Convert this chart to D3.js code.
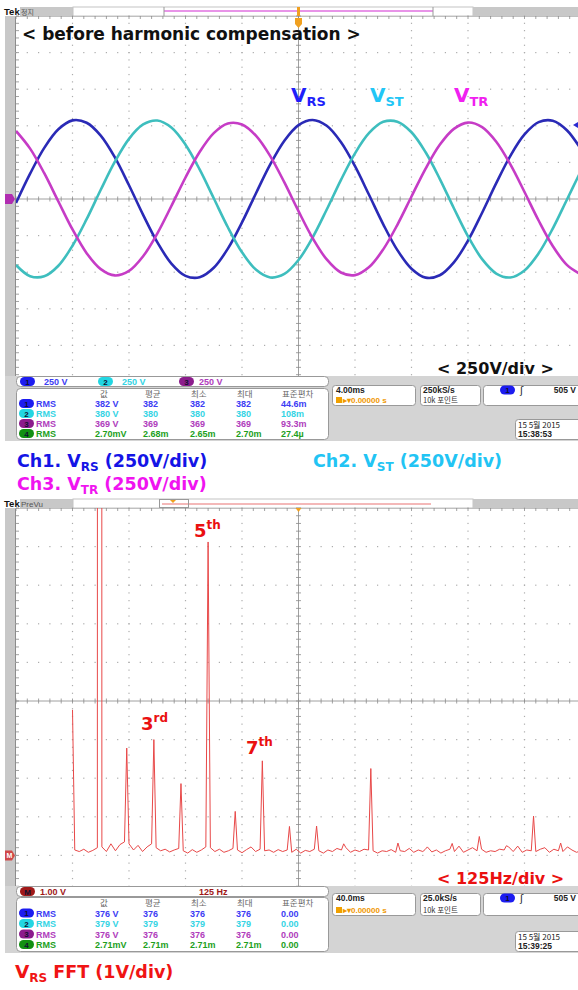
<!DOCTYPE html>
<html>
<head>
<meta charset="utf-8">
<script src="https://cdn.jsdelivr.net/npm/d3@7/dist/d3.min.js"></script>
<style>
  body { margin: 0; background: #fff; }
  svg { display: block; }
</style>
</head>
<body>
<svg id="chart" width="578" height="990"></svg>
<script>
// ---- data read off the two scope captures ----
// time record: 4 ms/div, 10 div, trigger in the middle, sampled every 1 ms
var timeMs = d3.range(-20, 21);
var vRS = [-27,173,349,476,537,521,433,284,94,-108,-295,-441,-525,-535,-470,-339,-160,41,236,398,
           505,540,500,389,224,27,-173,-349,-476,-537,-521,-433,-284,-94,108,295,441,525,535,470,339];
var vST = [-451,-527,-528,-456,-319,-138,63,255,411,509,536,488,371,202,5,-193,-364,-484,-536,-512,
           -417,-263,-72,129,312,451,527,528,456,319,138,-63,-255,-411,-509,-536,-488,-371,-202,-5,193];
var vTR = [465,344,176,-17,-208,-370,-479,-522,-491,-391,-236,-48,147,321,450,516,509,431,293,113,
           -83,-267,-413,-502,-520,-465,-344,-176,17,208,370,479,522,491,391,236,48,-147,-321,-450,-516];

// FFT of V_RS: harmonic lines (Hz, V) and the noise floor between them (bins 5 Hz + 10 Hz steps)
var harmHz = [0,60,120,180,240,300,360,420,480,540,600,660,720,780,840,900,960,1020,1080];
var harmV  = [3.77,382,2.78,3.0,1.86,8.12,1.14,2.45,0.75,0.76,0.30,2.25,0.32,0.15,0.31,0.49,0.25,1.02,0.32];
var floorV = [0.14,0.10,0.16,0.08,0.13,0.20,0.22,0.10,0.30,0.12,
              0.28,0.35,0.30,0.14,0.26,0.10,0.22,0.30,0.20,0.12,
              0.16,0.09,0.14,0.18,0.12,0.06,0.15,0.08,0.14,0.22,
              0.20,0.10,0.16,0.08,0.12,0.18,0.14,0.07,0.15,0.22,
              0.10,0.16,0.12,0.14,0.08,0.15,0.10,0.14,0.08,0.16,
              0.06,0.13,0.10,0.16,0.12,0.06,0.14,0.10,0.18,0.14,
              0.20,0.08,0.14,0.10,0.16,0.14,0.12,0.06,0.12,0.10,
              0.15,0.08,0.12,0.10,0.18,0.08,0.14,0.10,0.22,0.09,
              0.14,0.06,0.12,0.16,0.10,0.24,0.08,0.14,0.20,0.12,
              0.16,0.08,0.12,0.10,0.16,0.14,0.22,0.10,0.24,0.08,
              0.14,0.12,0.10,0.16,0.20,0.08,0.16,0.12,0.10,0.22,
              0.14,0.08,0.12];

var measHead = ["값", "평균", "최소", "최대", "표준편차"];
var measWave = [
  ["382 V", "382", "382", "382", "44.6m"],
  ["380 V", "380", "380", "380", "108m"],
  ["369 V", "369", "369", "369", "93.3m"],
  ["2.70mV", "2.68m", "2.65m", "2.70m", "27.4µ"]
];
var measFft = [
  ["376 V", "376", "376", "376", "0.00"],
  ["379 V", "379", "379", "379", "0.00"],
  ["376 V", "376", "376", "376", "0.00"],
  ["2.71mV", "2.71m", "2.71m", "2.71m", "0.00"]
];

var svg = d3.select("#chart");
var fontBig = '"DejaVu Sans", sans-serif';
var fontTek = '"Liberation Sans", Arial, sans-serif';
var fontKo = '"Noto Sans CJK KR", sans-serif';
var divX = 56.5, plotL = 16;

var panels = [
  {bar: 7, top: 16, divY: 36.6, read: 376, measTop: 388, measBot: 441, row0: 397, rowStep: 10, boxTop: 385, boxH: 20, dateTop: 419},
  {bar: 499, top: 508, divY: 38.6, read: 886, measTop: 897, measBot: 953, row0: 906, rowStep: 10.5, boxTop: 893, boxH: 22, dateTop: 931}
];

svg.append("rect").attr("width", 578).attr("height", 990).attr("fill", "#fff");

function txt(g, x, y, s, size, color, font, weight) {
  return g.append("text").attr("x", x).attr("y", y).text(s)
    .style("font-family", font || fontTek).style("font-size", size + "px")
    .style("font-weight", weight || "normal").attr("fill", color);
}

function oval(g, x, cy, fill, label) {
  g.append("rect").attr("x", x).attr("y", cy - 4.5).attr("width", 15).attr("height", 9)
    .attr("rx", 4.5).attr("fill", fill);
  txt(g, x + 7.5, cy + 3, label, 8, "#101030", fontTek, "bold").attr("text-anchor", "middle");
}

// frame of one capture: record bar, side bar, graticule
function frame(p, tag) {
  var g = svg.append("g");
  var bottom = p.top + 10 * p.divY;
  g.append("rect").attr("x", 20).attr("y", p.bar).attr("width", 53).attr("height", 9).attr("fill", "#c8c8c8");
  g.append("rect").attr("x", 73).attr("y", p.bar).attr("width", 400).attr("height", 9)
    .attr("fill", "#fff").attr("stroke", "#c4c4c4");
  g.append("rect").attr("x", 473).attr("y", p.bar).attr("width", 105).attr("height", 9).attr("fill", "#c8c8c8");
  txt(g, 4, p.bar + 8, "Tek", 9.5, "#111", fontTek, "bold");
  txt(g, 21, p.bar + 7.5, tag, tag === "PreVu" ? 8 : 7, "#555", tag === "PreVu" ? fontTek : fontKo);

  g.append("rect").attr("x", plotL).attr("y", p.top).attr("width", 578 - plotL).attr("height", bottom - p.top).attr("fill", "#fff");
  g.append("rect").attr("x", 5).attr("y", p.top).attr("width", 10).attr("height", p.read - p.top).attr("fill", "#c8c8c8");
  g.append("line").attr("x1", 15.5).attr("x2", 15.5).attr("y1", p.top).attr("y2", p.read).attr("stroke", "#8c8c8c");
  g.append("line").attr("x1", 15).attr("x2", 578).attr("y1", p.top + 0.5).attr("y2", p.top + 0.5).attr("stroke", "#c0c0c0");

  var gx = d3.scaleLinear().domain([0, 10]).range([plotL, plotL + 10 * divX]);
  var gy = d3.scaleLinear().domain([0, 10]).range([p.top, bottom]);
  var minors = d3.range(0, 51).map(function(d) { return d / 5; });
  var dots = [];
  [1, 2, 3, 4, 6, 7, 8, 9].forEach(function(i) {
    minors.forEach(function(m) { dots.push([gx(i), gy(m)]); dots.push([gx(m), gy(i)]); });
  });
  g.selectAll("rect.dot").data(dots).enter().append("rect").attr("class", "dot")
    .attr("x", function(d) { return d[0] - 0.6; }).attr("y", function(d) { return d[1] - 0.6; })
    .attr("width", 1.2).attr("height", 1.2).attr("fill", "#acacac");

  g.append("line").attr("x1", gx(5)).attr("x2", gx(5)).attr("y1", p.top).attr("y2", bottom).attr("stroke", "#a0a0a0");
  g.append("line").attr("x1", plotL).attr("x2", 578).attr("y1", gy(5)).attr("y2", gy(5)).attr("stroke", "#a0a0a0");
  var ticks = [];
  minors.forEach(function(m) {
    ticks.push([gx(m), gy(5) - 2.5, gx(m), gy(5) + 2.5]);
    ticks.push([gx(5) - 2.5, gy(m), gx(5) + 2.5, gy(m)]);
    ticks.push([gx(m), p.top, gx(m), p.top + 3]);
    ticks.push([plotL, gy(m), plotL + 3, gy(m)]);
  });
  g.selectAll("line.tk").data(ticks).enter().append("line").attr("class", "tk")
    .attr("x1", function(d) { return d[0]; }).attr("y1", function(d) { return d[1]; })
    .attr("x2", function(d) { return d[2]; }).attr("y2", function(d) { return d[3]; })
    .attr("stroke", "#8a8a8a").attr("stroke-width", 0.8);
  return g;
}

// readout strip below a graticule
function readouts(p, chans, meas, boxA, boxB, date) {
  var g = svg.append("g");
  g.append("rect").attr("x", 5).attr("y", p.read).attr("width", 573).attr("height", p.measBot - p.read).attr("fill", "#d4d4d4");
  g.append("rect").attr("x", 16.5).attr("y", p.read + 0.5).attr("width", 312).attr("height", 10)
    .attr("rx", 4).attr("fill", "#fff").attr("stroke", "#999");
  chans.forEach(function(c) {
    if (c.oval) oval(g, c.x, p.read + 5.5, c.fill, c.oval);
    txt(g, c.tx, p.read + 9, c.text, 9, c.color, fontTek, "bold");
  });

  g.append("rect").attr("x", 16.5).attr("y", p.measTop + 0.5).attr("width", 312).attr("height", p.measBot - p.measTop - 2)
    .attr("rx", 4).attr("fill", "#fff").attr("stroke", "#999");
  var colX = [95, 143, 190, 236, 281];
  var headX = [100, 145, 191, 237, 282];
  measHead.forEach(function(h, i) { txt(g, headX[i], p.row0, h, 8.5, "#666", fontKo); });
  var rowCol = ["#3c3cf4", "#34d4e4", "#b03cbc", "#1ca01c"];
  var ovCol = ["#1c1cf0", "#22d6e2", "#8c1c8c", "#129012"];
  meas.forEach(function(r, j) {
    var y = p.row0 + (j + 1) * p.rowStep;
    oval(g, 19, y - 3.5, ovCol[j], String(j + 1));
    txt(g, 36, y, "RMS", 9, rowCol[j], fontTek, "bold");
    r.forEach(function(v, i) { txt(g, colX[i], y, v, 9, rowCol[j], fontTek, "bold"); });
  });

  var l1 = p.boxTop + 8, l2 = p.boxTop + p.boxH - 2;
  g.append("rect").attr("x", 332.5).attr("y", p.boxTop + 0.5).attr("width", 83).attr("height", p.boxH).attr("rx", 3).attr("fill", "#fff").attr("stroke", "#999");
  txt(g, 336, l1, boxA, 8.5, "#222", fontTek, "bold");
  g.append("rect").attr("x", 336).attr("y", l2 - 6).attr("width", 6).attr("height", 6).attr("fill", "#f0a000");
  txt(g, 343, l2, "▸▾0.00000 s", 8, "#f09800", fontTek, "bold");
  g.append("rect").attr("x", 420.5).attr("y", p.boxTop + 0.5).attr("width", 60).attr("height", p.boxH).attr("rx", 3).attr("fill", "#fff").attr("stroke", "#999");
  txt(g, 423, l1, boxB, 8.5, "#222", fontTek, "bold");
  txt(g, 423, l2, "10k 포인트", 7.5, "#333", fontKo);
  g.append("rect").attr("x", 483.5).attr("y", p.boxTop + 0.5).attr("width", 100).attr("height", p.boxH).attr("rx", 3).attr("fill", "#fff").attr("stroke", "#999");
  oval(g, 500, l1 - 3, "#1c1cf0", "1");
  txt(g, 520, l1 + 1, "ʃ", 10, "#222", fontBig);
  txt(g, 576, l1, "505 V", 8.5, "#222", fontTek, "bold").attr("text-anchor", "end");
  g.append("rect").attr("x", 515.5).attr("y", p.dateTop + 0.5).attr("width", 70).attr("height", 20).attr("rx", 3).attr("fill", "#fff").attr("stroke", "#999");
  txt(g, 518, p.dateTop + 8.5, "15 5월 2015", 8, "#222", fontKo);
  txt(g, 518, p.dateTop + 18, date, 8.5, "#222", fontTek, "bold");
}

// label with a subscript / superscript part
function rich(x, y, color, parts) {
  var t = svg.append("text").attr("x", x).attr("y", y).attr("fill", color)
    .style("font-family", fontBig).style("font-weight", "bold");
  parts.forEach(function(q) {
    t.append("tspan").text(q[0]).style("font-size", q[1] + "px").attr("dy", q[2] || 0);
  });
  return t;
}

// ================= upper capture: three phase voltages =================
var P1 = panels[0];
frame(P1, "정지");
var x1 = d3.scaleLinear().domain([-20, 20]).range([plotL, plotL + 10 * divX]);
var y1 = d3.scaleLinear().domain([-1250, 1250]).range([P1.top + 10 * P1.divY, P1.top]);

svg.append("clipPath").attr("id", "clip1").append("rect")
  .attr("x", plotL).attr("y", P1.top).attr("width", 578 - plotL).attr("height", P1.read - P1.top);
var wave = d3.line().x(function(d, i) { return x1(timeMs[i]); }).y(function(d) { return y1(d); })
  .curve(d3.curveCatmullRom);
var series = [[vRS, "#2a2ab6"], [vST, "#3ebebe"], [vTR, "#c63cc6"]];
svg.append("g").attr("clip-path", "url(#clip1)").selectAll("path").data(series).enter().append("path")
  .attr("d", function(d) { return wave(d[0]); }).attr("fill", "none")
  .attr("stroke", function(d) { return d[1]; }).attr("stroke-width", 2.6).attr("stroke-linejoin", "round");

// markers: record bar, trigger, ground and level
svg.append("line").attr("x1", 164).attr("x2", 433).attr("y1", 11).attr("y2", 11).attr("stroke", "#e070e0").attr("stroke-width", 1.5);
[164, 433].forEach(function(x) {
  svg.append("line").attr("x1", x).attr("x2", x).attr("y1", 7).attr("y2", 16).attr("stroke", "#999");
});
svg.append("rect").attr("x", x1(0) - 1.5).attr("y", 7).attr("width", 3).attr("height", 9).attr("fill", "#f0a020");
svg.append("path").attr("d", "M" + (x1(0) - 3.5) + ",18 h7 v6 l-3.5,4 l-3.5,-4 z").attr("fill", "#f0a020");
svg.append("path").attr("d", "M5," + (y1(0) - 5) + " h7 l3,5 l-3,5 h-7 z").attr("fill", "#b02cb0");
svg.append("path").attr("d", "M578," + (y1(505) - 3) + " l-5,3 l5,3 z").attr("fill", "#2a2ad0");

txt(svg, 22, 40, "< before harmonic compensation >", 17, "#111", fontBig, "bold");
rich(291, 102, "#1f1ffa", [["V", 20], ["RS", 13, 4]]);
rich(370, 102, "#22c6f6", [["V", 20], ["ST", 13, 4]]);
rich(454, 102, "#f020f0", [["V", 20], ["TR", 13, 4]]);
txt(svg, 437, 374, "< 250V/div >", 16, "#111", fontBig, "bold");

readouts(P1, [
  {oval: "1", x: 20, fill: "#1c1cf0", tx: 44, text: "250 V", color: "#3c3cf4"},
  {oval: "2", x: 98, fill: "#22d6e2", tx: 122, text: "250 V", color: "#34d4e4"},
  {oval: "3", x: 179, fill: "#8c1c8c", tx: 199, text: "250 V", color: "#b03cbc"}
], measWave, "4.00ms", "250kS/s", "15:38:53");

// captions between the captures
rich(17, 467, "#1414e6", [["Ch1. V", 17.5], ["RS", 12, 4], [" (250V/div)", 17.5, -4]]);
rich(313, 467, "#22c4f4", [["Ch2. V", 17.5], ["ST", 12, 4], [" (250V/div)", 17.5, -4]]);
rich(17, 490, "#f014f0", [["Ch3. V", 17.5], ["TR", 12, 4], [" (250V/div)", 17.5, -4]]);

// ================= lower capture: FFT of V_RS =================
var P2 = panels[1];
frame(P2, "PreVu");
var x2 = d3.scaleLinear().domain([-125, 1125]).range([plotL, plotL + 10 * divX]);
var y2 = d3.scaleLinear().domain([-1, 9]).range([P2.top + 10 * P2.divY, P2.top]);

var spec = floorV.map(function(v, i) { return [5 + 10 * i, v]; })
  .concat(harmHz.map(function(f, i) { return [f, harmV[i]]; }))
  .sort(function(a, b) { return a[0] - b[0]; });

svg.append("clipPath").attr("id", "clip2").append("rect")
  .attr("x", plotL).attr("y", P2.top).attr("width", 578 - plotL).attr("height", P2.read - P2.top);
svg.append("g").attr("clip-path", "url(#clip2)").append("path")
  .attr("d", d3.line().x(function(d) { return x2(d[0]); }).y(function(d) { return y2(d[1]); })(spec))
  .attr("fill", "none").attr("stroke", "#e84848").attr("stroke-width", 1);

svg.append("line").attr("x1", 162).attr("x2", 431).attr("y1", 504).attr("y2", 504).attr("stroke", "#f0a0a0").attr("stroke-width", 1.5);
svg.append("rect").attr("x", 159.5).attr("y", 499.5).attr("width", 29).attr("height", 8).attr("fill", "none").attr("stroke", "#999");
svg.append("path").attr("d", "M170,500 h6 l-3,3 z").attr("fill", "#f0a020");
svg.append("path").attr("d", "M" + (x2(500) - 3) + "," + P2.top + " h6 l-3,4 z").attr("fill", "#f0a020");
svg.append("path").attr("d", "M5," + (y2(0) - 5) + " h7 l3,5 l-3,5 h-7 z").attr("fill", "#d04848");
txt(svg, 6.5, y2(0) + 3, "M", 7, "#fff", fontTek, "bold");

rich(194, 537, "#ea1010", [["5", 18], ["th", 12, -8]]);
rich(141, 730, "#ea1010", [["3", 18], ["rd", 12, -8]]);
rich(246, 754, "#ea1010", [["7", 18], ["th", 12, -8]]);
txt(svg, 437, 884, "< 125Hz/div >", 16, "#ea1010", fontBig, "bold");

readouts(P2, [
  {oval: "M", x: 20, fill: "#a01818", tx: 40, text: "1.00 V", color: "#a01818"},
  {x: 0, tx: 199, text: "125 Hz", color: "#a01818"}
], measFft, "40.0ms", "25.0kS/s", "15:39:25");

rich(15, 978, "#f01414", [["V", 18.5], ["RS", 12, 4], [" FFT (1V/div)", 17.5, -4]]);
</script>
</body>
</html>
